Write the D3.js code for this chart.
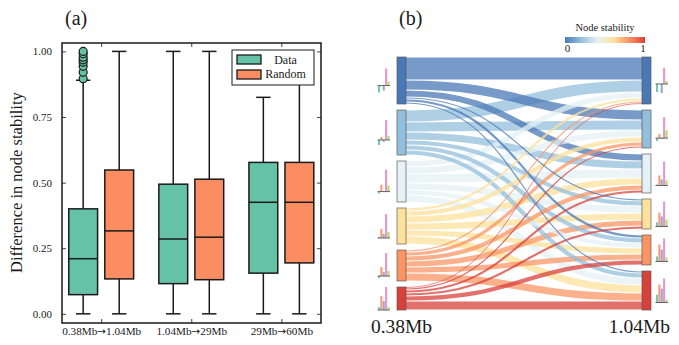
<!DOCTYPE html>
<html><head><meta charset="utf-8">
<script src="https://cdn.jsdelivr.net/npm/d3@7"></script>
<style>
body{margin:0;background:#fff}
svg{display:block}
text{font-family:"Liberation Serif","Times New Roman",serif;fill:#1a1a1a}
</style>
</head><body>
<svg id="c" width="679" height="345"></svg>
<script>
// ---------- Panel (a) data ----------
const groups = ["0.38Mb\u21921.04Mb", "1.04Mb\u219229Mb", "29Mb\u219260Mb"];
const seriesNames = ["Data", "Random"];
// [whisker low, Q1, median, Q3, whisker high]
const dataStats = [
  [0, 0.073, 0.21, 0.40, 0.89],
  [0, 0.115, 0.285, 0.494, 1.0],
  [0, 0.155, 0.425, 0.577, 0.825]
];
const randomStats = [
  [0, 0.133, 0.316, 0.548, 1.0],
  [0, 0.13, 0.292, 0.513, 1.0],
  [0, 0.194, 0.425, 0.577, 1.0]
];
const dataOutliers = [0.896, 0.921, 0.943, 0.959, 0.968, 0.978, 0.991, 1.0];
const yTicks = [0, 0.25, 0.5, 0.75, 1.0];
const yLabel = "Difference in node stability";

// ---------- Panel (b) data ----------
const leftLabel = "0.38Mb";
const rightLabel = "1.04Mb";
// flows[i][j]: from left community i to right community j
const flows = [
  [23, 10, 7, 2, 3, 2],
  [12, 10, 8, 5, 5, 5],
  [6, 7, 9, 7, 5, 7],
  [3, 5, 7, 7, 6, 8],
  [2, 4, 5, 6, 6, 8],
  [1, 2, 3, 3, 5, 9]
];
const nodeStability = [0.0, 0.2, 0.4, 0.6, 0.8, 1.0];
// little bar glyphs: 5 features per community
const leftGlyphs = [
  [-0.29, 0, -0.21, 0.71, 0.17],
  [-0.21, 0.12, -0.08, 0.83, 0.17],
  [-0.08, 0.29, 0.02, 0.92, 0.25],
  [0.04, 0.38, 0.17, 1.0, 0.25],
  [-0.08, 0.38, 0.17, 0.96, 0.21],
  [0.12, 0.58, 0.38, 0.96, 0.12]
];
const rightGlyphs = [
  [-0.33, 0, -0.38, 0.67, 0.12],
  [-0.12, 0.17, -0.04, 0.88, 0.33],
  [0.04, 0.42, 0.25, 1.0, 0.21],
  [0.17, 0.58, 0.42, 1.04, 0.29],
  [0.21, 0.71, 0.5, 0.96, 0.17],
  [0.33, 0.75, 0.58, 1.0, 0.12]
];
const colorbarTitle = "Node stability";
const colorbarTicks = [0, 1];

// ---------- styles ----------
const seriesColors = ["#66c2a5", "#fc8d62"];
const glyphColors = ["#66c2a5", "#fc8d62", "#8da0cb", "#e78ac3", "#a6d854"];
const stabColor = d3.scaleLinear()
  .domain([0, 0.2, 0.4, 0.6, 0.8, 1.0])
  .range(["#4a78b6", "#94bfdc", "#e4f1f6", "#fde29c", "#fb9564", "#d8403a"]);
const ink = "#1a1a1a";

const svg = d3.select("#c");

// ================= Panel (a) =================
const A = {left: 62, right: 321, top: 43, bottom: 323};
const x = d3.scaleLinear().domain([-0.435, 2.44]).range([A.left, A.right]);
const y = d3.scaleLinear().domain([-0.035, 1.032]).range([A.bottom, A.top]);
const ga = svg.append("g");

const axL = ga.append("g").attr("transform", `translate(${A.left},0)`)
  .call(d3.axisLeft(y).tickValues(yTicks).tickFormat(d3.format(".2f"))
    .tickSizeInner(-4).tickSizeOuter(0).tickPadding(10));
const axR = ga.append("g").attr("transform", `translate(${A.right},0)`)
  .call(d3.axisRight(y).tickValues(yTicks).tickFormat("")
    .tickSizeInner(-4).tickSizeOuter(0));
const axB = ga.append("g").attr("transform", `translate(0,${A.bottom})`)
  .call(d3.axisBottom(x).tickValues([0, 1, 2]).tickFormat(i => groups[i])
    .tickSizeInner(-4).tickSizeOuter(0).tickPadding(4));
const axT = ga.append("g").attr("transform", `translate(0,${A.top})`)
  .call(d3.axisTop(x).tickValues([0, 1, 2]).tickFormat("")
    .tickSizeInner(-4).tickSizeOuter(0));
[axL, axR, axB, axT].forEach(g => {
  g.select(".domain").remove();
  g.selectAll(".tick line").attr("stroke", "#444").attr("stroke-width", 1);
});
axL.selectAll("text").style("font-size", "11px").attr("fill", ink)
  .style("font-family", '"Liberation Serif",serif');
axB.selectAll("text").each(function () {
  const t = d3.select(this);
  const parts = t.text().split("\u2192");
  t.text(null).style("font-size", "11.2px").attr("fill", ink)
    .style("font-family", '"Liberation Serif",serif');
  t.append("tspan").text(parts[0]);
  t.append("tspan").style("font-family", '"DejaVu Sans",sans-serif').style("font-size", "10.5px")
    .text("\u2192");
  t.append("tspan").text(parts[1]);
});

const statsAll = [dataStats, randomStats];
const offs = [-0.2, 0.2];
const halfBox = 0.16, halfCap = 0.08;
statsAll.forEach((stats, s) => {
  stats.forEach((st, i) => {
    const cx = i + offs[s];
    const g = ga.append("g");
    g.append("line").attr("x1", x(cx)).attr("x2", x(cx)).attr("y1", y(st[0])).attr("y2", y(st[1]))
      .attr("stroke", ink).attr("stroke-width", 1.5);
    g.append("line").attr("x1", x(cx)).attr("x2", x(cx)).attr("y1", y(st[3])).attr("y2", y(st[4]))
      .attr("stroke", ink).attr("stroke-width", 1.5);
    [st[0], st[4]].forEach(val => {
      g.append("line").attr("x1", x(cx - halfCap)).attr("x2", x(cx + halfCap))
        .attr("y1", y(val)).attr("y2", y(val)).attr("stroke", ink).attr("stroke-width", 1.5);
    });
    g.append("rect").attr("x", x(cx - halfBox)).attr("width", x(cx + halfBox) - x(cx - halfBox))
      .attr("y", y(st[3])).attr("height", y(st[1]) - y(st[3]))
      .attr("fill", seriesColors[s]).attr("stroke", ink).attr("stroke-width", 1.5);
    g.append("line").attr("x1", x(cx - halfBox)).attr("x2", x(cx + halfBox))
      .attr("y1", y(st[2])).attr("y2", y(st[2])).attr("stroke", ink).attr("stroke-width", 1.5);
  });
});
ga.append("g").selectAll("circle").data(dataOutliers).join("circle")
  .attr("cx", x(0 + offs[0])).attr("cy", d => y(d)).attr("r", 4)
  .attr("fill", seriesColors[0]).attr("stroke", ink).attr("stroke-width", 1.2);

// frame
ga.append("rect").attr("x", A.left).attr("y", A.top)
  .attr("width", A.right - A.left).attr("height", A.bottom - A.top)
  .attr("fill", "none").attr("stroke", ink).attr("stroke-width", 1.5);

// legend
const lg = ga.append("g");
lg.append("rect").attr("x", 232).attr("y", 50).attr("width", 82).attr("height", 35)
  .attr("fill", "#fff").attr("stroke", ink).attr("stroke-width", 1);
seriesNames.forEach((nm, k) => {
  lg.append("rect").attr("x", 237).attr("y", 55 + k * 15).attr("width", 24).attr("height", 9)
    .attr("fill", seriesColors[k]).attr("stroke", ink).attr("stroke-width", 1.3);
  lg.append("text").attr("x", 285.5).attr("y", 63.5 + k * 14.5).attr("text-anchor", "middle")
    .style("font-size", "12px").text(nm);
});

// y label
ga.append("text").attr("transform", `translate(22,${(y(0) + y(1)) / 2}) rotate(-90)`)
  .attr("text-anchor", "middle").style("font-size", "16.5px").text(yLabel);
ga.append("text").attr("x", 65).attr("y", 25).style("font-size", "20px").text("(a)");

// ================= Panel (b) =================
const B = {xL: 397, xR: 642, nodeW: 9, top: 57, bottom: 310, pad: 6};
const n = flows.length;
const leftVals = flows.map(r => d3.sum(r));
const rightVals = flows[0].map((_, j) => d3.sum(flows, r => r[j]));
const total = d3.sum(leftVals);
const v = d3.scaleLinear().domain([0, total]).range([0, B.bottom - B.top - B.pad * (n - 1)]);

function layout(vals) {
  let yy = B.top;
  return vals.map(val => { const o = {y0: yy, y1: yy + v(val)}; yy = o.y1 + B.pad; return o; });
}
const leftNodes = layout(leftVals);
const rightNodes = layout(rightVals);

const links = [];
flows.forEach((row, i) => row.forEach((f, j) => {
  if (f <= 0) return;
  const sy = leftNodes[i].y0 + v(d3.sum(row.slice(0, j)));
  const ty = rightNodes[j].y0 + v(d3.sum(flows.slice(0, i), r => r[j]));
  links.push({i, j, f, w: v(f), sy, ty});
}));
links.sort((a, b) => b.w - a.w);

const gb = svg.append("g");
const linkGen = d3.linkHorizontal().x(d => d[0]).y(d => d[1]);
gb.append("g").selectAll("path").data(links).join("path")
  .attr("d", d => linkGen({source: [B.xL + B.nodeW, d.sy + d.w / 2], target: [B.xR, d.ty + d.w / 2]}))
  .attr("fill", "none")
  .attr("stroke", d => stabColor(nodeStability[d.i]))
  .attr("stroke-opacity", 0.75)
  .attr("stroke-width", d => Math.max(0.8, d.w - 0.8));

function drawNodes(nodes, x0) {
  gb.append("g").selectAll("rect").data(nodes).join("rect")
    .attr("x", x0).attr("width", B.nodeW)
    .attr("y", d => d.y0).attr("height", d => d.y1 - d.y0)
    .attr("fill", (d, k) => stabColor(nodeStability[k]))
    .attr("stroke", "#555").attr("stroke-opacity", 0.65).attr("stroke-width", 1);
}
drawNodes(leftNodes, B.xL);
drawNodes(rightNodes, B.xR);

// glyphs
const gh = d3.scaleLinear().domain([0, 1]).range([0, 24]);
const gx = d3.scaleBand().domain(d3.range(5)).paddingInner(0.12);
function drawGlyphs(glyphs, nodes, xStart) {
  gx.range([xStart, xStart + 11.5]);
  glyphs.forEach((vals, k) => {
    const up = gh(d3.max(vals.concat([0])));
    const down = gh(-d3.min(vals.concat([0])));
    const mid = (nodes[k].y0 + nodes[k].y1) / 2;
    const base = mid + (up - down) / 2;
    const g = gb.append("g");
    g.selectAll("rect").data(vals).join("rect")
      .attr("x", (d, q) => gx(q)).attr("width", gx.bandwidth())
      .attr("y", d => d >= 0 ? base - gh(d) : base)
      .attr("height", d => gh(Math.abs(d)))
      .attr("fill", (d, q) => glyphColors[q]).attr("opacity", 0.9);
    g.append("line").attr("x1", xStart - 0.5).attr("x2", xStart + 12)
      .attr("y1", base).attr("y2", base).attr("stroke", "#555").attr("stroke-width", 0.9);
  });
}
drawGlyphs(leftGlyphs, leftNodes, 378);
drawGlyphs(rightGlyphs, rightNodes, 656);

// colorbar
const cbx = d3.scaleLinear().domain([0, 1]).range([567.5, 643]);
const defs = svg.append("defs");
const grad = defs.append("linearGradient").attr("id", "cb");
d3.range(0, 1.0001, 0.05).forEach(t => {
  grad.append("stop").attr("offset", t).attr("stop-color", stabColor(t));
});
gb.append("rect").attr("x", 565).attr("y", 37).attr("width", 80).attr("height", 6)
  .attr("fill", "url(#cb)");
gb.append("g").selectAll("text").data(colorbarTicks).join("text")
  .attr("x", d => cbx(d)).attr("y", 51.5).attr("text-anchor", "middle")
  .style("font-size", "11px").text(d => d);
gb.append("text").attr("x", 605).attr("y", 31).attr("text-anchor", "middle")
  .style("font-size", "10.5px").text(colorbarTitle);

gb.append("text").attr("x", B.xL + B.nodeW / 2).attr("y", 333).attr("text-anchor", "middle")
  .style("font-size", "19.5px").text(leftLabel);
gb.append("text").attr("x", 670).attr("y", 333).attr("text-anchor", "end")
  .style("font-size", "19.5px").text(rightLabel);
gb.append("text").attr("x", 399).attr("y", 25).style("font-size", "20px").text("(b)");
</script>
</body></html>
